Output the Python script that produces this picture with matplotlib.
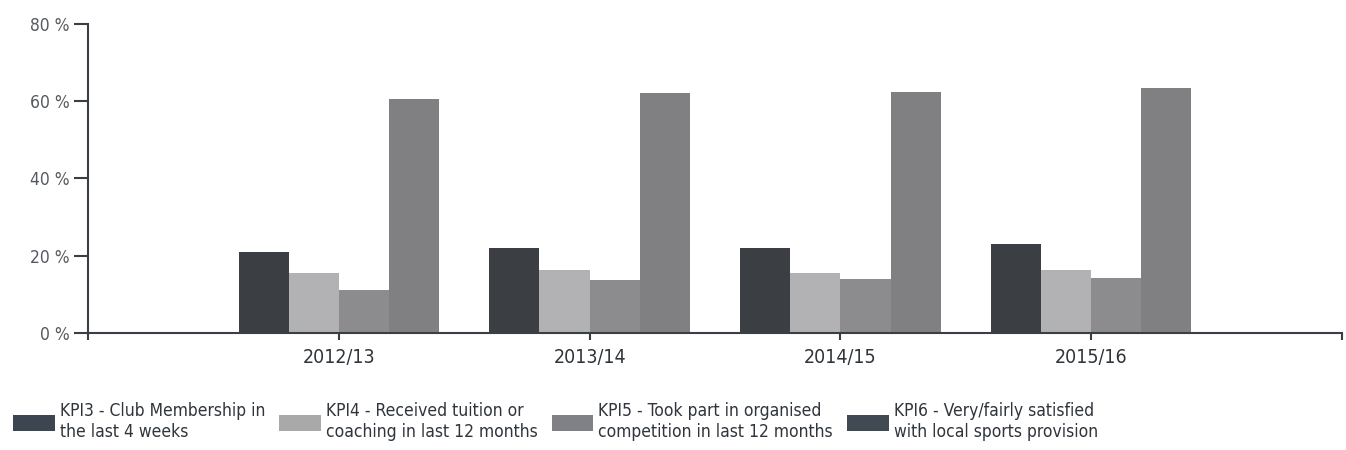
import matplotlib
matplotlib.use('Agg')
import matplotlib.pyplot as plt
from matplotlib.patches import Patch
import numpy as np

plt.rcParams['font.family'] = ['DejaVu Sans']
plt.rcParams['font.stretch'] = 'condensed'

# data
years = ['2012/13', '2013/14', '2014/15', '2015/16']
kpi3 = [21.0, 22.0, 22.0, 23.0]
kpi4 = [15.5, 16.3, 15.5, 16.3]
kpi5 = [11.1, 13.7, 14.0, 14.2]
kpi6 = [60.6, 62.2, 62.4, 63.5]
labels = ['KPI3 - Club Membership in\nthe last 4 weeks',
          'KPI4 - Received tuition or\ncoaching in last 12 months',
          'KPI5 - Took part in organised\ncompetition in last 12 months',
          'KPI6 - Very/fairly satisfied\nwith local sports provision']

bar_cols = ['#3b3f44', '#b2b2b4', '#8c8c8e', '#808083']
leg_cols = ['#3d4650', '#a9a9a9', '#7f8186', '#414a53']

fig = plt.figure(figsize=(13.46, 4.5), dpi=100)
ax = fig.add_axes([0.0654, 0.26, 0.9316, 0.6867])

x = np.arange(1, len(years) + 1)
w = 0.2
for i, vals in enumerate([kpi3, kpi4, kpi5, kpi6]):
    ax.bar(x + (i - 1.5) * w, vals, width=w, color=bar_cols[i], linewidth=0)

ax.set_xlim(0, 5)
ax.set_ylim(0, 80)
ax.set_yticks([0, 20, 40, 60, 80])
ax.set_yticklabels(['0 %', '20 %', '40 %', '60 %', '80 %'])
ax.set_xticks([0, 1, 2, 3, 4, 5])
ax.set_xticklabels([''] + years + [''])

for s in ['top', 'right']:
    ax.spines[s].set_visible(False)
for s in ['left', 'bottom']:
    ax.spines[s].set_color('#3a3f45')
    ax.spines[s].set_linewidth(1.5)

ax.tick_params(axis='y', length=10, width=1.5, color='#3a3f45', labelsize=12.5,
               labelcolor='#555a60', pad=3)
ax.tick_params(axis='x', length=5, width=1.5, color='#3a3f45', labelsize=14,
               labelcolor='#2f353b', pad=6)

handles = [Patch(facecolor=c, edgecolor='none') for c in leg_cols]
fig.legend(handles, labels, loc='lower left', bbox_to_anchor=(-0.002, -0.015),
           ncol=4, frameon=False, fontsize=12.5, handlelength=2.4,
           handleheight=1.0, handletextpad=0.3, columnspacing=0.8,
           labelspacing=0.2, labelcolor='#2f353b')

fig.savefig('out.png', dpi=100)
